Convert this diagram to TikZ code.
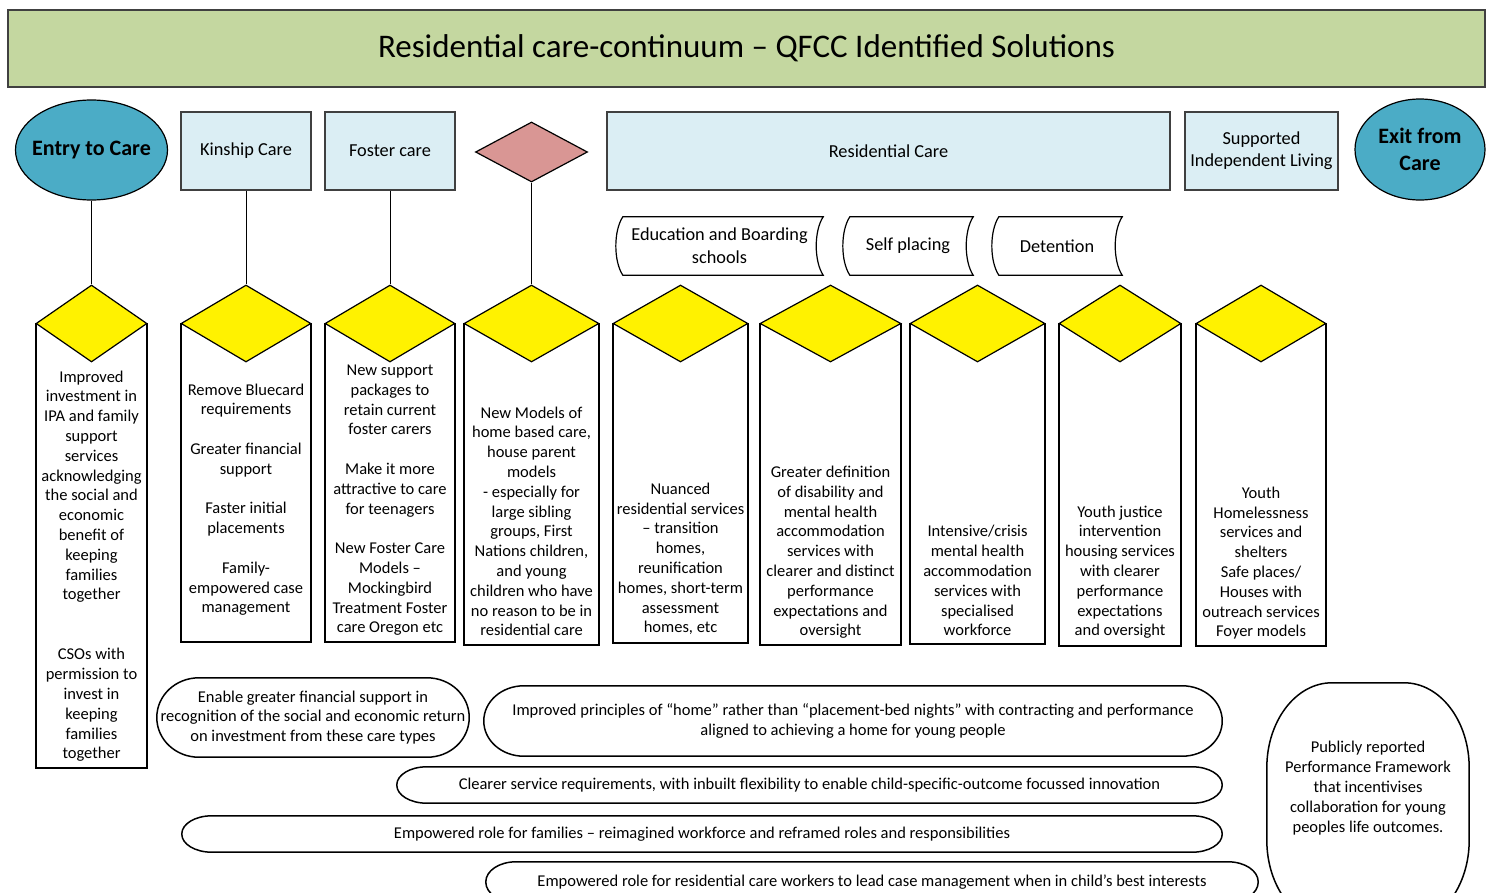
\documentclass[tikz,border=0pt]{standalone}
\usepackage{fontspec}
\setmainfont{Carlito}
\usetikzlibrary{shapes.geometric,positioning}
\definecolor{bannergreen}{RGB}{196,215,160}
\definecolor{careteal}{RGB}{75,172,198}
\definecolor{paleblue}{RGB}{219,238,244}
\definecolor{rosy}{RGB}{217,150,148}
\newcommand\colfont{\fontsize{16.5}{19.8}\selectfont}
% stored-data outline round a plain node
\newcommand\storeddata[1]{%
  \draw[line width=1.2] ([xshift=7pt]#1.north west) -- (#1.north east)
    .. controls ([xshift=-9.3pt,yshift=-14pt]#1.north east) and ([xshift=-9.3pt,yshift=14pt]#1.south east) .. (#1.south east)
    -- ([xshift=7pt]#1.south west)
    .. controls ([xshift=-2.3pt,yshift=14pt]#1.south west) and ([xshift=-2.3pt,yshift=-14pt]#1.north west) .. cycle;}
% pill outline with elliptic ends: node, x radius, y radius
\newcommand\pillline[3]{%
  \draw[line width=1.5] ([xshift=#2pt]#1.north west) -- ([xshift=-#2pt]#1.north east)
    .. controls ([xshift=-0.448*#2pt]#1.north east) and ([yshift=-0.448*#3pt]#1.north east) .. ([yshift=-#3pt]#1.north east)
    -- ([yshift=#3pt]#1.south east)
    .. controls ([yshift=0.448*#3pt]#1.south east) and ([xshift=-0.448*#2pt]#1.south east) .. ([xshift=-#2pt]#1.south east)
    -- ([xshift=#2pt]#1.south west)
    .. controls ([xshift=0.448*#2pt]#1.south west) and ([yshift=0.448*#3pt]#1.south west) .. ([yshift=#3pt]#1.south west)
    -- ([yshift=-#3pt]#1.north west)
    .. controls ([yshift=-0.448*#3pt]#1.north west) and ([xshift=0.448*#2pt]#1.north west) .. cycle;}
\tikzset{
  banner/.style={draw=black!75,line width=1.5,fill=bannergreen,minimum width=1477,minimum height=77,
                 font=\fontsize{33}{38}\selectfont},
  careend/.style={ellipse,draw=black,line width=1.2,fill=careteal,inner sep=0pt,align=center,
                  font=\fontsize{22}{27}\selectfont\bfseries},
  caretype/.style={draw=black!75,line width=1.5,fill=paleblue,minimum height=78,align=center,
                   font=\fontsize{18.3}{22}\selectfont},
  tapebox/.style={minimum height=58,align=center,font=\fontsize{18.3}{23}\selectfont},
  colbox/.style={draw=black,line width=1.5,fill=white,anchor=north},
  gem/.style={diamond,draw=black,line width=1.2,fill=yellow,inner sep=0pt,minimum height=77},
  redgem/.style={diamond,draw=black,line width=1.2,fill=rosy,inner sep=0pt,minimum width=112,minimum height=60},
  coltext/.style={align=center,inner sep=0pt,text depth=0pt,anchor=south,font=\colfont},
  pill/.style={align=center,inner sep=0pt,font=\colfont},
  link/.style={line width=0.8},
}
\begin{document}
\begin{tikzpicture}[x=1pt,y=-1pt]
  \useasboundingbox (0,0) rectangle (1491,892);
  \node[banner] (title) at (746.5,48.5) {Residential care-continuum – QFCC Identified Solutions};

  % top row
  \node[careend,inner xsep=-6pt,minimum width=152,minimum height=100] (entry) at (91.5,150) {Entry to Care};
  \node[caretype,minimum width=130] (kin) at (246,151) {Kinship Care};
  \node[caretype,minimum width=130] (fost) at (390,151) {Foster care};
  \node[redgem] (pk) at (531.5,152) {};
  \node[caretype,minimum width=563] (resi) at (888.5,151) {Residential Care};
  \node[caretype,minimum width=153] (sil) at (1261.5,151) {Supported\\Independent Living};
  \node[careend,minimum width=130,minimum height=101] (exit) at (1420,149.5) {Exit from\\Care};

  % residential sub-types
  \node[tapebox,minimum width=207] (edu) at (719.5,246) {Education and Boarding\\schools};
  \node[tapebox,minimum width=130] (self) at (908,246) {Self placing};
  \node[tapebox,minimum width=130] (det) at (1057,246) {Detention};
  \storeddata{edu} \storeddata{self} \storeddata{det}

  % solution columns
  \node[colbox,minimum width=111,minimum height=444] (c1) at (91.5,323) {};
  \node[colbox,minimum width=130,minimum height=318] (c2) at (246,323) {};
  \node[colbox,minimum width=130,minimum height=318] (c3) at (390,323) {};
  \node[colbox,minimum width=135,minimum height=321] (c4) at (531.5,323) {};
  \node[colbox,minimum width=135,minimum height=319] (c5) at (680.5,323) {};
  \node[colbox,minimum width=141,minimum height=321] (c6) at (830.5,323) {};
  \node[colbox,minimum width=135,minimum height=320] (c7) at (977.5,323) {};
  \node[colbox,minimum width=122,minimum height=322] (c8) at (1120,323) {};
  \node[colbox,minimum width=130,minimum height=322] (c9) at (1261,323) {};
  \node[gem,minimum width=111] (d1) at (91.5,323.5) {};
  \node[gem,minimum width=130] (d2) at (246,323.5) {};
  \node[gem,minimum width=130] (d3) at (390,323.5) {};
  \node[gem,minimum width=135] (d4) at (531.5,323.5) {};
  \node[gem,minimum width=135] (d5) at (680.5,323.5) {};
  \node[gem,minimum width=141] (d6) at (830.5,323.5) {};
  \node[gem,minimum width=135] (d7) at (977.5,323.5) {};
  \node[gem,minimum width=122] (d8) at (1120,323.5) {};
  \node[gem,minimum width=130] (d9) at (1261,323.5) {};

  \node[coltext] (t1a) at (91.5,600) {Improved\\investment in\\IPA and family\\support\\services\\acknowledging\\the social and\\economic\\benefit of\\keeping\\families\\together};
  \node[coltext] (t1b) at (91.5,759) {CSOs with\\permission to\\invest in\\keeping\\families\\together};
  \node[coltext] (t2) at (246,613) {Remove Bluecard\\requirements\\[19.8pt]Greater financial\\support\\[19.8pt]Faster initial\\placements\\[19.8pt]Family-\\empowered case\\management};
  \node[coltext] (t3) at (390,633) {New support\\packages to\\retain current\\foster carers\\[19.8pt]Make it more\\attractive to care\\for teenagers\\[19.8pt]New Foster Care\\Models –\\Mockingbird\\Treatment Foster\\care Oregon etc};
  \node[coltext] (t4) at (531.5,636) {New Models of\\home based care,\\house parent\\models\\- especially for\\large sibling\\groups, First\\Nations children,\\and young\\children who have\\no reason to be in\\residential care};
  \node[coltext] (t5) at (680.5,633) {Nuanced\\residential services\\– transition\\homes,\\reunification\\homes, short-term\\assessment\\homes, etc};
  \node[coltext] (t6) at (830.5,636) {Greater definition\\of disability and\\mental health\\accommodation\\services with\\clearer and distinct\\performance\\expectations and\\oversight};
  \node[coltext] (t7) at (977.5,636) {Intensive/crisis\\mental health\\accommodation\\services with\\specialised\\workforce};
  \node[coltext] (t8) at (1120,636) {Youth justice\\intervention\\housing services\\with clearer\\performance\\expectations\\and oversight};
  \node[coltext] (t9) at (1261,637) {Youth\\Homelessness\\services and\\shelters\\Safe places/\\Houses with\\outreach services\\Foyer models};

  \draw[link] (entry) -- (d1.north);
  \draw[link] (kin) -- (d2.north);
  \draw[link] (fost) -- (d3.north);
  \draw[link] (pk) -- (d4.north);

  % cross-cutting solutions
  \node[pill,minimum width=312,minimum height=79] (fin) at (313,717.5) {Enable greater financial support in\\recognition of the social and economic return\\on investment from these care types};
  \node[pill,minimum width=738,minimum height=70] (home) at (853,721) {Improved principles of “home” rather than “placement-bed nights” with contracting and performance\\aligned to achieving a home for young people};
  \node[pill,minimum width=825,minimum height=36] (flex) at (809.5,785) {Clearer service requirements, with inbuilt flexibility to enable child-specific-outcome focussed innovation};
  \node[pill,minimum width=1040,minimum height=36] (fam) at (702,834) {Empowered role for families – reimagined workforce and reframed roles and responsibilities};
  \node[pill,minimum width=772,minimum height=40] (work) at (872,882) {Empowered role for residential care workers to lead case management when in child's best interests};
  \node[pill,minimum width=202,minimum height=242] (pf) at (1368,804) {};
  \node[pill] (pftext) at (1368,788) {Publicly reported\\Performance Framework\\that incentivises\\collaboration for young\\peoples life outcomes.};
  \pillline{fin}{42}{39.5} \pillline{home}{40}{35} \pillline{flex}{30}{18}
  \pillline{fam}{30}{18} \pillline{work}{30}{20} \pillline{pf}{65}{85}
\end{tikzpicture}
\end{document}
